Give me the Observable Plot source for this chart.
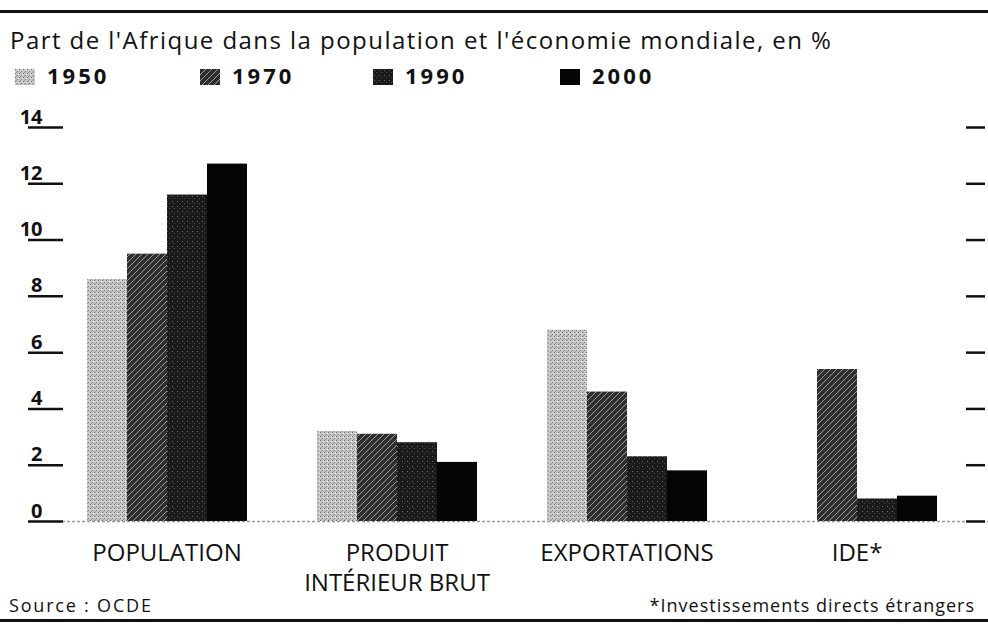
<!DOCTYPE html>
<html>
<head>
<meta charset="utf-8">
<script src="https://cdn.jsdelivr.net/npm/d3@7"></script>
<script src="https://cdn.jsdelivr.net/npm/@observablehq/plot@0.6"></script>
<style>
  html, body { margin: 0; padding: 0; background: #fff; }
  #wrap { position: relative; width: 988px; height: 631px; overflow: hidden; font-family: "Open Sans", sans-serif; color: #111; }
  .rule { position: absolute; left: 0; width: 988px; background: #111; }
  #title { position: absolute; left: 10px; top: 28px; font-size: 24px; line-height: 24px; letter-spacing: 1.45px; white-space: nowrap; }
  .item { position: absolute; top: 64px; font-size: 22px; line-height: 22px; letter-spacing: 3px; font-weight: bold; white-space: nowrap; }
  .sw { position: absolute; top: 68px; width: 20px; height: 16px; }
  .layer { position: absolute; left: 0; top: 100px; }
  #source { position: absolute; left: 9px; top: 596px; font-size: 18px; line-height: 18px; letter-spacing: 1.8px; white-space: nowrap; }
  #note { position: absolute; right: 13px; top: 596px; font-size: 18px; line-height: 18px; letter-spacing: 1px; white-space: nowrap; }
</style>
</head>
<body>
<svg width="0" height="0" style="position:absolute">
  <defs>
    <pattern id="pat1950" width="4" height="4" patternUnits="userSpaceOnUse">
      <rect width="4" height="4" fill="#c6c6c6"/>
      <rect x="0" y="0" width="1" height="1" fill="#6e6e6e"/>
      <rect x="2" y="2" width="1" height="1" fill="#808080"/>
      <rect x="3" y="1" width="1" height="1" fill="#f2f2f2"/>
      <rect x="1" y="3" width="1" height="1" fill="#9a9a9a"/>
    </pattern>
    <pattern id="pat1970" width="6" height="6" patternUnits="userSpaceOnUse">
      <rect width="6" height="6" fill="#2e2e2e"/>
      <path d="M0,6 L6,0 M-1,1 L1,-1 M5,7 L7,5" stroke="#9c9c9c" stroke-width="1"/>
    </pattern>
    <pattern id="pat1990" width="5" height="5" patternUnits="userSpaceOnUse">
      <rect width="5" height="5" fill="#1a1a1a"/>
      <rect x="1" y="1" width="1" height="1" fill="#6a6a6a"/>
      <rect x="3" y="3" width="1" height="1" fill="#4a4a4a"/>
    </pattern>
    <pattern id="pat2000" width="4" height="4" patternUnits="userSpaceOnUse">
      <rect width="4" height="4" fill="#050505"/>
    </pattern>
  </defs>
</svg>
<div id="wrap">
  <div class="rule" style="top:10px;height:3px"></div>
  <div id="title">Part de l'Afrique dans la population et l'économie mondiale, en %</div>
  <div id="legend"></div>
  <div id="axes" class="layer"></div>
  <div id="bars" class="layer"></div>
  <div id="source">Source : OCDE</div>
  <div id="note">*Investissements directs étrangers</div>
  <div class="rule" style="top:619px;height:3px"></div>
</div>
<script>
// ---- data ----
const categories = ["POPULATION", "PRODUIT\nINTÉRIEUR BRUT", "EXPORTATIONS", "IDE*"];
const years = ["1950", "1970", "1990", "2000"];
const values1950 = [8.6, 3.2, 6.8, null];
const values1970 = [9.5, 3.1, 4.6, 5.4];
const values1990 = [11.6, 2.8, 2.3, 0.8];
const values2000 = [12.7, 2.1, 1.8, 0.9];
const yTicks = [0, 2, 4, 6, 8, 10, 12, 14];
const legendLeft = [15, 200, 373, 560];

const series = {"1950": values1950, "1970": values1970, "1990": values1990, "2000": values2000};
const table = [];
categories.forEach((c, i) => years.forEach(y => {
  const v = series[y][i];
  if (v != null) table.push({category: c, year: y, value: v});
}));

const fills = years.map(y => `url(#pat${y})`);

// legend
const legend = document.getElementById("legend");
years.forEach((y, i) => {
  const sw = document.createElement("div");
  sw.className = "sw";
  sw.style.left = legendLeft[i] + "px";
  sw.innerHTML = `<svg width="20" height="16"><rect width="20" height="16" fill="${fills[i]}"/></svg>`;
  legend.appendChild(sw);
  const t = document.createElement("div");
  t.className = "item";
  t.style.left = (legendLeft[i] + 32) + "px";
  t.textContent = y;
  legend.appendChild(t);
});

const common = {
  width: 988,
  height: 505,
  marginTop: 27,
  marginBottom: 84,
  marginLeft: 0,
  marginRight: 0,
  style: {fontFamily: "Open Sans, sans-serif", color: "#111", background: "transparent", overflow: "visible"},
  y: {domain: [0, 14], axis: null}
};

// axes layer: ticks, tick labels and baseline
const axes = Plot.plot({
  ...common,
  marks: [
    Plot.ruleY([0], {insetLeft: 52, stroke: "#9a9a9a", strokeWidth: 1.5, strokeDasharray: "3,2"}),
    Plot.ruleY(yTicks, {insetLeft: 28, insetRight: 925, stroke: "#111", strokeWidth: 2.5}),
    Plot.ruleY(yTicks, {insetLeft: 966, insetRight: 3, stroke: "#111", strokeWidth: 2.5}),
    Plot.text(yTicks, {y: d => d, text: d => String(d), frameAnchor: "left", dx: 42, dy: -4,
      textAnchor: "end", lineAnchor: "bottom", fontSize: 20, fontWeight: "bold", fill: "#111"})
  ]
});
document.getElementById("axes").appendChild(axes);

// bars layer
const bars = Plot.plot({
  ...common,
  fx: {domain: categories, range: [86, 937], paddingInner: 0.3, paddingOuter: 0, label: null},
  x: {domain: years, padding: 0, axis: null},
  color: {domain: years, range: fills},
  marks: [
    Plot.barY(table, {fx: "category", x: "year", y: "value", fill: "year"}),
    Plot.axisFx({anchor: "bottom", tickSize: 0, tickPadding: 18, fontSize: 24, lineHeight: 1.25, label: null, fill: "#111"})
  ]
});
document.getElementById("bars").appendChild(bars);
</script>
</body>
</html>
